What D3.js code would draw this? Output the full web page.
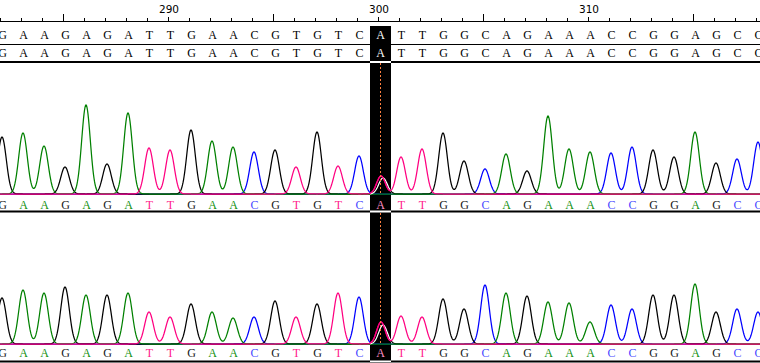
<!DOCTYPE html>
<html><head><meta charset="utf-8">
<script src="https://cdn.jsdelivr.net/npm/d3@7"></script>
<style>body{margin:0;background:#fff}svg{display:block}</style>
</head><body>
<div id="chart"></div>
<script>
var width = 760, height = 363;
// sequence positions 282..318
var startPos = 282, endPos = 318, markPos = 300;
var bases = ["G","A","A","G","A","G","A","T","T","G","A","A","C","G","T","G","T","C","A","T","T","G","G","C","A","G","A","A","A","C","C","G","G","A","G","C","C"];
// peak heights (0 = mixed call, see mixT/mixG)
var peaks1 = [57,61,48,27,89,30,81,46,44,64,53,47,42,44,27,62,28,38,0,37,45,61,33,25,40,23,78,45,42,41,47,44,37,62,31,35,52];
var peaks2 = [46,54,51,57,49,49,51,32,27,40,32,26,27,43,27,40,51,47,0,28,27,45,35,59,51,48,42,41,22,39,35,49,49,60,32,35,32];
// small double peak at the marked position, trace 1 / trace 2
var mixT = [18, 22];
var mixG = [16, 19];
var rulerLabels = [290, 300, 310];

var colors = {A: "#008000", C: "#0000ff", G: "#000000", T: "#ff0080"};
var letterColors = {A: "#109010", C: "#4848ff", G: "#202020", T: "#ff1c8c"};

var svg = d3.select("#chart").append("svg")
    .attr("width", width).attr("height", height);

var x = d3.scaleLinear().domain([startPos, endPos]).range([2, 758]);
var colL = x(markPos) - 10, colW = 21;

// highlight column
svg.append("rect").attr("x", colL).attr("y", 26).attr("width", colW).attr("height", height - 26).attr("fill", "#000");

svg.append("clipPath").attr("id", "col")
  .append("rect").attr("x", colL).attr("y", 0).attr("width", colW).attr("height", height);

// ruler
svg.append("line").attr("x1", 0).attr("x2", width).attr("y1", 21.5).attr("y2", 21.5).attr("stroke", "#000");
var tickPos = d3.range(startPos - 1, endPos + 2);
svg.selectAll(".tick").data(tickPos).enter().append("line")
    .attr("x1", function(d){ return Math.round(x(d)) - 1.5; })
    .attr("x2", function(d){ return Math.round(x(d)) - 1.5; })
    .attr("y1", function(d){ return d % 10 == 0 ? 17 : (d % 5 == 0 ? 14 : 18); })
    .attr("y2", 21.5)
    .attr("stroke", "#000");
svg.selectAll(".rlab").data(rulerLabels).enter().append("text")
    .attr("x", function(d){ return x(d) - 1; })
    .attr("y", 13)
    .attr("text-anchor", "middle")
    .attr("font-family", "DejaVu Sans, sans-serif")
    .attr("font-size", "10.5px")
    .attr("fill", "#000")
    .text(function(d){ return d; });

// letter rows
function letterRow(y, colored, markFill) {
    svg.append("g").selectAll("text").data(bases).enter().append("text")
        .attr("x", function(d, i){ return x(startPos + i) + 0.5; })
        .attr("y", y + 4)
        .attr("text-anchor", "middle")
        .attr("font-family", "Liberation Serif, serif")
        .attr("font-size", "12px")
        .attr("fill", function(d, i){
            if (startPos + i == markPos) return markFill;
            return colored ? letterColors[d] : "#000";
        })
        .text(function(d){ return d; });
}
letterRow(35, false, "#fff");
letterRow(53, false, "#fff");

function hline(y, w) {
    svg.append("line").attr("x1", 0).attr("x2", width).attr("y1", y).attr("y2", y)
        .attr("stroke", "#000").attr("stroke-width", w);
    svg.append("line").attr("x1", colL).attr("x2", colL + colW).attr("y1", y).attr("y2", y)
        .attr("stroke", "#fff").attr("stroke-width", w);
}
svg.append("line").attr("x1", 0).attr("x2", colL).attr("y1", 44.5).attr("y2", 44.5).attr("stroke", "#000");
svg.append("line").attr("x1", colL + colW).attr("x2", width).attr("y1", 44.5).attr("y2", 44.5).attr("stroke", "#000");
hline(62, 2);

// traces
var sigma = 4.3;
function channel(heights, b, mix) {
    var pts = [];
    for (var px = -14; px <= width + 14; px += 0.5) {
        var h = 0;
        for (var i = 0; i < bases.length; i++) {
            if (bases[i] == b && heights[i] > 0) {
                var d = px - x(startPos + i);
                h += heights[i] * Math.exp(-d * d / (2 * sigma * sigma));
            }
        }
        if (mix) {
            var dm = px - x(markPos) - mix[1];
            h += mix[0] * Math.exp(-dm * dm / (2 * sigma * sigma));
        }
        pts.push([px, h]);
    }
    return pts;
}

function drawTrace(base, heights, k) {
    var y = d3.scaleLinear().domain([0, 100]).range([base, base - 100]);
    var line = d3.line().x(function(d){ return d[0]; }).y(function(d){ return y(d[1]); });
    var g = svg.append("g");
    var order = ["C", "G", "A", "T"];
    var data = {};
    order.forEach(function(b){
        var mix = null;
        if (b == "T") mix = [mixT[k], 1];
        if (b == "G") mix = [mixG[k], 3];
        data[b] = channel(heights, b, mix);
        g.append("path").attr("d", line(data[b]))
            .attr("fill", "none").attr("stroke", colors[b]).attr("stroke-width", 1.25);
    });
    // black trace shows white inside the highlight column
    g.append("path").attr("d", line(data.G)).attr("clip-path", "url(#col)")
        .attr("fill", "none").attr("stroke", "#fff").attr("stroke-width", 1.25);
    g.append("path").attr("d", line(data.T)).attr("clip-path", "url(#col)")
        .attr("fill", "none").attr("stroke", colors.T).attr("stroke-width", 1.25);
    // dotted marker line
    svg.append("line").attr("x1", x(markPos) + 0.5).attr("x2", x(markPos) + 0.5)
        .attr("y1", base - 131).attr("y2", base)
        .attr("stroke", "#ff8040").attr("stroke-dasharray", "2,2");
}
drawTrace(194, peaks1, 0);
letterRow(205, true, "#ff90c8");
hline(211.5, 2);

drawTrace(344, peaks2, 1);
letterRow(353, true, "#ff90c8");
hline(361.5, 2);
</script>
</body></html>
